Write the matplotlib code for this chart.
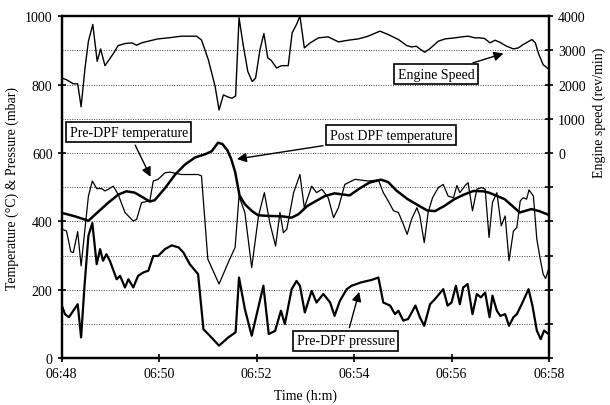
import numpy as np
import pandas as pd
import matplotlib
matplotlib.use("Agg")
import matplotlib.pyplot as plt
import matplotlib.dates as mdates

plt.rcParams['font.family'] = ['Liberation Serif', 'DejaVu Serif']
plt.rcParams['font.size'] = 10

BASE = pd.Timestamp("2000-01-01 06:48:00")

# Engine speed (rev/min) -- time in minutes after 06:48
speed_t = [0.00, 0.10, 0.24, 0.33, 0.40, 0.48, 0.55, 0.64, 0.73, 0.80, 0.89, 1.06, 1.16, 1.30,
           1.44, 1.54, 1.64, 1.85, 1.98, 2.19, 2.46, 2.77, 2.87, 3.01, 3.15, 3.23, 3.32, 3.42,
           3.50, 3.57, 3.64, 3.73, 3.82, 3.91, 3.98, 4.07, 4.15, 4.23, 4.30, 4.41, 4.51, 4.65,
           4.73, 4.82, 4.89, 4.98, 5.10, 5.27, 5.47, 5.68, 5.88, 6.09, 6.29, 6.53, 6.70, 6.91,
           7.08, 7.18, 7.28, 7.35, 7.45, 7.55, 7.73, 7.87, 8.07, 8.21, 8.34, 8.48, 8.58, 8.68,
           8.79, 8.89, 8.99, 9.13, 9.27, 9.37, 9.47, 9.65, 9.72, 9.78, 9.88, 9.99]
speed_rpm = [2190, 2140, 2020, 2020, 1350, 2480, 3265, 3755, 2676, 3040, 2550, 2900, 3138, 3197,
             3216, 3147, 3216, 3290, 3333, 3363, 3412, 3412, 3300, 2726, 1941, 1256, 1697, 1630,
             1600, 1667, 3952, 3117, 2382, 2088, 2186, 3020, 3490, 2776, 2707, 2482, 2550, 2550,
             3510, 3755, 4000, 3069, 3216, 3363, 3392, 3245, 3294, 3333, 3412, 3559, 3461, 3314,
             3138, 3098, 3118, 3040, 2941, 3040, 3265, 3333, 3363, 3392, 3412, 3363, 3363, 3343,
             3216, 3294, 3235, 3118, 3040, 3069, 3167, 3314, 3216, 2922, 2579, 2452]

# Post-DPF temperature (deg C)
post_t = [0.00, 0.27, 0.55, 0.75, 0.96, 1.16, 1.33, 1.50, 1.67, 1.81, 1.91, 2.12, 2.33, 2.53,
          2.74, 2.94, 3.08, 3.21, 3.30, 3.40, 3.48, 3.56, 3.65, 3.76, 3.90, 4.03, 4.24, 4.51,
          4.72, 4.86, 5.04, 5.20, 5.40, 5.60, 5.91, 6.10, 6.31, 6.55, 6.70, 6.87, 7.10, 7.34,
          7.50, 7.66, 7.85, 8.06, 8.25, 8.45, 8.65, 8.77, 9.09, 9.25, 9.40, 9.64, 9.80, 9.96]
post_temp = [425, 415, 402, 428, 455, 478, 488, 484, 470, 458, 462, 497, 537, 566,
             587, 596, 605, 630, 626, 608, 582, 545, 476, 450, 431, 418, 416, 415,
             411, 421, 445, 458, 474, 482, 476, 495, 513, 522, 515, 490, 465, 445,
             432, 430, 445, 465, 478, 489, 488, 484, 465, 445, 426, 436, 430, 421]

# Pre-DPF temperature (deg C)
pre_t = [0.01, 0.10, 0.19, 0.24, 0.33, 0.40, 0.55, 0.63, 0.72, 0.82, 0.89, 0.96, 1.06, 1.16,
         1.30, 1.47, 1.54, 1.64, 1.81, 1.88, 1.98, 2.12, 2.22, 2.46, 2.80, 2.87, 3.00, 3.23,
         3.45, 3.56, 3.64, 3.76, 3.90, 4.04, 4.16, 4.27, 4.39, 4.48, 4.55, 4.62, 4.76, 4.89,
         4.98, 5.13, 5.23, 5.34, 5.47, 5.58, 5.68, 5.81, 6.02, 6.29, 6.50, 6.60, 6.70, 6.81,
         6.91, 7.01, 7.09, 7.18, 7.29, 7.35, 7.44, 7.52, 7.61, 7.73, 7.83, 7.93, 8.04, 8.11,
         8.17, 8.28, 8.34, 8.43, 8.52, 8.62, 8.69, 8.77, 8.84, 8.93, 9.02, 9.10, 9.18, 9.27,
         9.34, 9.41, 9.47, 9.54, 9.59, 9.68, 9.75, 9.82, 9.88, 9.93, 9.99]
pre_temp = [377, 372, 311, 309, 370, 270, 474, 518, 496, 496, 489, 494, 503, 479,
            426, 401, 406, 455, 460, 518, 523, 542, 544, 537, 537, 533, 290, 217,
            290, 324, 474, 426, 265, 416, 484, 397, 328, 426, 367, 377, 484, 537,
            440, 503, 484, 494, 469, 411, 440, 508, 523, 518, 521, 484, 460, 431,
            426, 392, 362, 406, 440, 416, 338, 426, 469, 499, 508, 474, 469, 505,
            484, 505, 513, 431, 494, 499, 494, 353, 455, 484, 387, 416, 285, 372,
            382, 460, 469, 465, 492, 474, 348, 290, 246, 233, 260]

# Pre-DPF pressure (mbar)
pres_t = [0.01, 0.07, 0.15, 0.33, 0.40, 0.47, 0.55, 0.63, 0.72, 0.79, 0.85, 0.92, 0.99, 1.13,
          1.20, 1.30, 1.37, 1.47, 1.57, 1.68, 1.78, 1.88, 1.98, 2.12, 2.26, 2.40, 2.50, 2.63,
          2.80, 2.91, 3.04, 3.23, 3.42, 3.57, 3.64, 3.76, 3.90, 4.14, 4.25, 4.38, 4.50, 4.58,
          4.72, 4.82, 4.89, 4.99, 5.13, 5.23, 5.37, 5.51, 5.60, 5.71, 5.85, 5.95, 6.15, 6.36,
          6.50, 6.60, 6.74, 6.84, 6.91, 7.01, 7.11, 7.26, 7.35, 7.44, 7.56, 7.66, 7.83, 7.92,
          8.00, 8.09, 8.17, 8.24, 8.33, 8.43, 8.52, 8.60, 8.69, 8.78, 8.84, 8.93, 9.00, 9.10,
          9.18, 9.27, 9.34, 9.44, 9.58, 9.66, 9.75, 9.83, 9.90, 9.99]
pres_val = [152, 129, 120, 158, 61, 212, 358, 395, 275, 319, 285, 304, 285, 231,
            241, 207, 231, 207, 241, 251, 256, 299, 299, 319, 330, 324, 309, 275,
            246, 85, 66, 37, 61, 76, 236, 144, 66, 212, 71, 80, 139, 100,
            202, 226, 212, 134, 197, 163, 188, 163, 124, 168, 202, 212, 222, 229,
            236, 163, 154, 129, 139, 110, 115, 154, 120, 95, 158, 173, 202, 154,
            163, 212, 158, 207, 217, 129, 188, 178, 192, 120, 183, 139, 124, 129,
            95, 120, 129, 158, 202, 154, 81, 56, 81, 71]

left_ticks = [0, 200, 400, 600, 800, 1000]
right_ticks = list(range(-6000, 4001, 1000))
time_ticks = ["06:48", "06:50", "06:52", "06:54", "06:56", "06:58"]


def to_time(mins):
    return BASE + pd.to_timedelta(np.asarray(mins), unit="m")


fig = plt.figure(figsize=(6.1, 4.06), dpi=100)
ax = fig.add_axes([0.101, 0.115, 0.799, 0.843])
ax2 = ax.twinx()

ax.plot(to_time(post_t), post_temp, color="black", lw=1.8, zorder=3)
ax.plot(to_time(pre_t), pre_temp, color="black", lw=0.9, zorder=3)
ax.plot(to_time(pres_t), pres_val, color="black", lw=1.6, zorder=3)
ax2.plot(to_time(speed_t), speed_rpm, color="black", lw=1.0, zorder=3)

ax.set_ylim(0, 1000)
ax2.set_ylim(-6000, 4000)
ax.set_xlim(BASE, BASE + pd.Timedelta(minutes=10))

ax.set_yticks(left_ticks)
ax.set_yticks(range(0, 1001, 100), minor=True)
ax.tick_params(axis='y', which='minor', length=0)
ax.grid(True, axis='y', which='both', linestyle=(0, (1, 1.5)), color='#444444', lw=0.7)

ax2.set_yticks(right_ticks)
ax2.set_yticklabels([str(v) if v >= 0 else "" for v in right_ticks])

tick_times = [pd.Timestamp("2000-01-01 " + s) for s in time_ticks]
ax.set_xticks(tick_times)
ax.set_xticklabels(time_ticks)

for a in (ax, ax2):
    for s in a.spines.values():
        s.set_linewidth(1.6)
ax.tick_params(axis='both', direction='inout', length=6, width=1.2, labelsize=10)
ax2.tick_params(axis='y', direction='inout', length=6, width=1.2, labelsize=10)

ax.set_xlabel("Time (h:m)", fontsize=10, labelpad=6)
ax.set_ylabel("Temperature (°C) & Pressure (mbar)", fontsize=10, labelpad=4)
ax2.set_ylabel("Engine speed (rev/min)", fontsize=10, labelpad=10)
ax2.yaxis.set_label_coords(1.09, 0.72)

box = dict(boxstyle="square,pad=0.25", fc="white", ec="black", lw=1.2)
arrow = dict(arrowstyle="-|>", color="black", lw=1.0, mutation_scale=14)

ax2.annotate("Engine Speed", xy=(to_time([9.12])[0], 2930), xytext=(0.768, 0.830),
             textcoords="axes fraction", ha="center", va="center", bbox=box,
             arrowprops=arrow, zorder=5)
ax.annotate("Pre-DPF temperature", xy=(to_time([1.85])[0], 523), xytext=(0.138, 0.661),
            textcoords="axes fraction", ha="center", va="center", bbox=box,
            arrowprops=arrow, zorder=5)
ax.annotate("Post DPF temperature", xy=(to_time([3.54])[0], 581), xytext=(0.676, 0.652),
            textcoords="axes fraction", ha="center", va="center", bbox=box,
            arrowprops=arrow, zorder=5)
ax.annotate("Pre-DPF pressure", xy=(to_time([6.12])[0], 202), xytext=(0.583, 0.051),
            textcoords="axes fraction", ha="center", va="center", bbox=box,
            arrowprops=arrow, zorder=5)

fig.savefig("out.png", dpi=100)
